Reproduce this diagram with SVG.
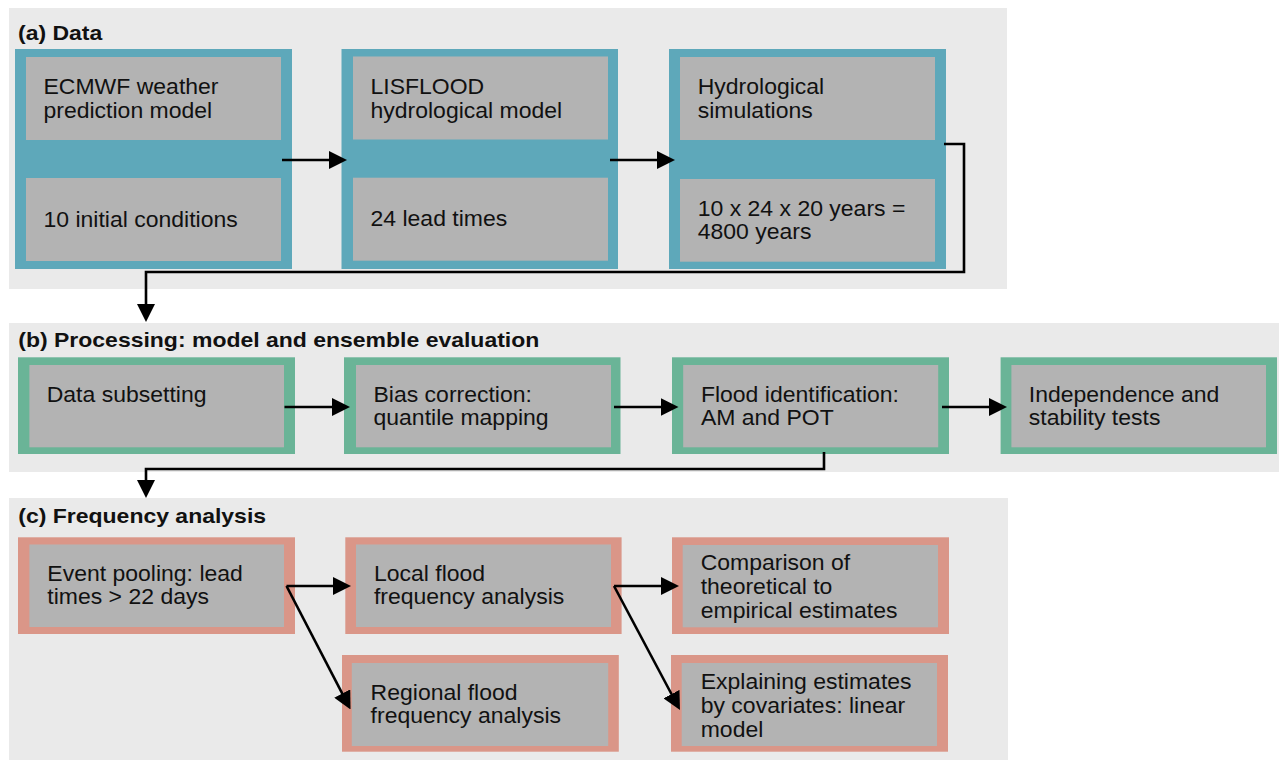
<svg xmlns="http://www.w3.org/2000/svg" width="1279" height="760" viewBox="0 0 1279 760">
<defs>
<style>
.panel{fill:#eaeaea}
.teal{fill:#5ea8ba}
.green{fill:#6ab497}
.salmon{fill:#da9688}
.in{fill:#b3b3b3}
.t{font-family:"Liberation Sans",Arial,sans-serif;font-size:22px;fill:#111}
.h{font-family:"Liberation Sans",Arial,sans-serif;font-size:20.5px;font-weight:bold;fill:#111}
.c{fill:none;stroke:#000;stroke-width:2.6}
</style>
<marker id="ah" markerUnits="userSpaceOnUse" markerWidth="18" markerHeight="18" refX="1" refY="9" orient="auto" viewBox="0 0 18 18">
<path d="M0,0 L18,9 L0,18 z" fill="#000"/>
</marker>
</defs>
<rect width="1279" height="760" fill="#fff"/>
<g id="panels">
<rect class="panel" x="9" y="8" width="998" height="281"/>
<rect class="panel" x="9" y="323" width="1270" height="149"/>
<rect class="panel" x="9" y="498" width="999" height="262"/>
<text class="h" transform="translate(18,40) scale(1.122,1)">(a) Data</text>
<text class="h" transform="translate(18.3,347) scale(1.122,1)">(b) Processing: model and ensemble evaluation</text>
<text class="h" transform="translate(18.3,523.3) scale(1.122,1)">(c) Frequency analysis</text>
</g>
<g id="ecmwf">
<rect class="teal" x="15" y="49" width="277" height="220"/>
<rect class="in" x="26" y="57" width="255" height="83"/>
<rect class="in" x="26" y="178" width="255" height="83"/>
<text class="t" transform="translate(43.5,94) scale(1.045,1)"><tspan x="0" y="0">ECMWF weather</tspan><tspan x="0" y="24">prediction model</tspan></text>
<text class="t" transform="translate(43.5,226.5) scale(1.045,1)">10 initial conditions</text>
</g>
<g id="lisflood">
<rect class="teal" x="341.5" y="49" width="276.5" height="220"/>
<rect class="in" x="353" y="56.5" width="255" height="83"/>
<rect class="in" x="353" y="177.7" width="255" height="83"/>
<text class="t" transform="translate(370.5,94) scale(1.045,1)"><tspan x="0" y="0">LISFLOOD</tspan><tspan x="0" y="24">hydrological model</tspan></text>
<text class="t" transform="translate(370.5,225.5) scale(1.045,1)">24 lead times</text>
</g>
<g id="hydro">
<rect class="teal" x="669" y="49" width="277" height="220"/>
<rect class="in" x="680" y="57" width="255" height="83"/>
<rect class="in" x="680" y="179" width="255" height="82.7"/>
<text class="t" transform="translate(697.7,94.3) scale(1.045,1)"><tspan x="0" y="0">Hydrological</tspan><tspan x="0" y="24">simulations</tspan></text>
<text class="t" transform="translate(697.7,215.7) scale(1.045,1)"><tspan x="0" y="0">10 x 24 x 20 years =</tspan><tspan x="0" y="23.6">4800 years</tspan></text>
</g>
<g id="subset">
<rect class="green" x="18" y="357.3" width="277" height="96.7"/>
<rect class="in" x="29.4" y="365" width="254.6" height="82.3"/>
<text class="t" transform="translate(46.7,402) scale(1.045,1)">Data subsetting</text>
</g>
<g id="bias">
<rect class="green" x="344" y="357.3" width="276.5" height="96.7"/>
<rect class="in" x="356" y="365" width="255" height="82.3"/>
<text class="t" transform="translate(373.5,402) scale(1.045,1)"><tspan x="0" y="0">Bias correction:</tspan><tspan x="0" y="23.3">quantile mapping</tspan></text>
</g>
<g id="floodid">
<rect class="green" x="672" y="357.3" width="277" height="96.7"/>
<rect class="in" x="683.2" y="365" width="255" height="82.3"/>
<text class="t" transform="translate(700.9,402) scale(1.045,1)"><tspan x="0" y="0">Flood identification:</tspan><tspan x="0" y="23.5">AM and POT</tspan></text>
</g>
<g id="indep">
<rect class="green" x="1000.6" y="357.3" width="276.4" height="96.7"/>
<rect class="in" x="1011.4" y="365" width="254.6" height="82.3"/>
<text class="t" transform="translate(1028.8,402) scale(1.045,1)"><tspan x="0" y="0">Independence and</tspan><tspan x="0" y="23.5">stability tests</tspan></text>
</g>
<g id="pooling">
<rect class="salmon" x="18" y="537.3" width="277" height="96.7"/>
<rect class="in" x="29.4" y="544.5" width="254.6" height="82.5"/>
<text class="t" transform="translate(47.3,581) scale(1.045,1)"><tspan x="0" y="0">Event pooling: lead</tspan><tspan x="0" y="23.5">times &gt; 22 days</tspan></text>
</g>
<g id="local">
<rect class="salmon" x="345.3" y="537.3" width="276.3" height="96.7"/>
<rect class="in" x="356" y="544.5" width="255" height="82.5"/>
<text class="t" transform="translate(373.9,580.5) scale(1.045,1)"><tspan x="0" y="0">Local flood</tspan><tspan x="0" y="23.5">frequency analysis</tspan></text>
</g>
<g id="regional">
<rect class="salmon" x="342" y="655" width="276.8" height="96.7"/>
<rect class="in" x="351.8" y="663" width="256.4" height="83"/>
<text class="t" transform="translate(370.6,700) scale(1.045,1)"><tspan x="0" y="0">Regional flood</tspan><tspan x="0" y="23.5">frequency analysis</tspan></text>
</g>
<g id="comparison">
<rect class="salmon" x="672" y="537.3" width="277" height="96.7"/>
<rect class="in" x="682.7" y="545" width="255.3" height="82.3"/>
<text class="t" transform="translate(700.7,570) scale(1.045,1)"><tspan x="0" y="0">Comparison of</tspan><tspan x="0" y="24">theoretical to</tspan><tspan x="0" y="48.3">empirical estimates</tspan></text>
</g>
<g id="explaining">
<rect class="salmon" x="671" y="655" width="277" height="96.7"/>
<rect class="in" x="681.7" y="663" width="255.3" height="83"/>
<text class="t" transform="translate(700.7,689) scale(1.045,1)"><tspan x="0" y="0">Explaining estimates</tspan><tspan x="0" y="24.3">by covariates: linear</tspan><tspan x="0" y="48.3">model</tspan></text>
</g>
<g id="connectors">
<line class="c" x1="282" y1="160" x2="330" y2="160" marker-end="url(#ah)"/>
<line class="c" x1="610" y1="160" x2="658" y2="160" marker-end="url(#ah)"/>
<path class="c" d="M944,144 H964 V272 H146 V305" marker-end="url(#ah)"/>
<line class="c" x1="284.5" y1="407" x2="333" y2="407" marker-end="url(#ah)"/>
<line class="c" x1="614" y1="407" x2="661.5" y2="407" marker-end="url(#ah)"/>
<line class="c" x1="942" y1="407" x2="990" y2="407" marker-end="url(#ah)"/>
<path class="c" d="M824,452 V469 H146 V481" marker-end="url(#ah)"/>
<line class="c" x1="286.5" y1="586" x2="334" y2="586" marker-end="url(#ah)"/>
<line class="c" x1="286.5" y1="586" x2="342.7" y2="694.4" marker-end="url(#ah)"/>
<line class="c" x1="614" y1="586" x2="662" y2="586" marker-end="url(#ah)"/>
<line class="c" x1="614" y1="586" x2="672" y2="695" marker-end="url(#ah)"/>
</g>
</svg>
